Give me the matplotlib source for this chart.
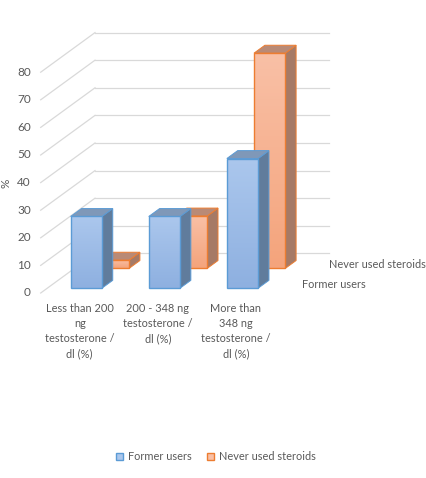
import matplotlib
matplotlib.use("Agg")
import matplotlib.pyplot as plt
import numpy as np
from matplotlib.patches import Polygon, Rectangle, Patch
from matplotlib.colors import LinearSegmentedColormap

# data
categories = ["Less than 200\nng\ntestosterone /\ndl (%)",
              "200 - 348 ng\ntestosterone /\ndl (%)",
              "More than\n348 ng\ntestosterone /\ndl (%)"]
series = ["Former users", "Never used steroids"]
former_users = [26, 26, 47]
never_used = [3, 19, 78]
yticks = [0, 10, 20, 30, 40, 50, 60, 70, 80]

# look of the 3d box (oblique projection)
W, H = 427, 478
px_cat, px_pct = 78.1, 2.76          # pixels per category / per percent
ox, oy = 40.7, 293                   # front-left floor corner in pixels
depth_dx, depth_dy = 54.3 / px_cat, 39.6 / px_pct
bar_w = 0.4
rows = {"Former users": (0.12, 0.32), "Never used steroids": (0.62, 0.82)}
styles = {
    "Former users": dict(top="#abc7ed", bottom="#8eb0e0", edge="#5b9bd5",
                         side="#607c9c", lid="#7f98b8"),
    "Never used steroids": dict(top="#f9c0a6", bottom="#f4a47c", edge="#ed7d31",
                                side="#a67a66", lid="#b98a76"),
}
txt = "#595959"
grid = "#d9d9d9"
fs = 8.5
fs_lab = 7.9

plt.rcParams['font.family'] = ['Lato', 'DejaVu Sans']

fig = plt.figure(figsize=(W / 100, H / 100), dpi=100)
ax = fig.add_axes([0, 0, 1, 1])
xmin = -0.5 - ox / px_cat
xmax = -0.5 + (W - ox) / px_cat
ymin = -(H - oy) / px_pct
ymax = oy / px_pct
ax.axis("off")


def P(x, y, d):
    return (x + depth_dx * d, y + depth_dy * d)


n = len(categories)
left, right = -0.5, n - 0.5

# back wall + side wall grid
for t in yticks:
    a, b = P(left, t, 1), P(right, t, 1)
    ax.plot([a[0], b[0]], [a[1], b[1]], color=grid, lw=0.9, zorder=1)
    c = P(left, t, 0)
    ax.plot([c[0], a[0]], [c[1], a[1]], color=grid, lw=0.9, zorder=1)
    ax.text(c[0] - 10 / px_cat, c[1], str(t), ha="right", va="center",
            fontsize=fs, color=txt)

ax.text(xmin + 6 / px_cat, (oy - 183) / px_pct, "%", rotation=90,
        ha="center", va="center", fontsize=fs, color=txt)

z = 2
values = {"Former users": former_users, "Never used steroids": never_used}
for name in ["Never used steroids", "Former users"]:
    d0, d1 = rows[name]
    st = styles[name]
    for i, v in enumerate(values[name]):
        x0, x1 = i - bar_w / 2, i + bar_w / 2
        side = Polygon([P(x1, 0, d0), P(x1, v, d0), P(x1, v, d1), P(x1, 0, d1)],
                       closed=True, facecolor=st["side"], edgecolor=st["edge"],
                       lw=0.7, zorder=z)
        lid = Polygon([P(x0, v, d0), P(x1, v, d0), P(x1, v, d1), P(x0, v, d1)],
                      closed=True, facecolor=st["lid"], edgecolor=st["edge"],
                      lw=0.7, zorder=z)
        ax.add_patch(side)
        ax.add_patch(lid)
        fx, fy = P(x0, 0, d0)
        front = Rectangle((fx, fy), bar_w, v, facecolor="none",
                          edgecolor=st["edge"], lw=1.0, zorder=z + 0.2)
        ax.add_patch(front)
        cmap = LinearSegmentedColormap.from_list("g", [st["bottom"], st["top"]])
        img = ax.imshow(np.linspace(0, 1, 64).reshape(-1, 1), cmap=cmap,
                        extent=(fx, fx + bar_w, fy, fy + v), origin="lower",
                        aspect="auto", zorder=z + 0.1)
        img.set_clip_path(Rectangle((fx, fy), bar_w, v, transform=ax.transData))
        z += 1

ax.set_xlim(xmin, xmax)
ax.set_ylim(ymin, ymax)

# category labels
for i, lab in enumerate(categories):
    ax.text(i, -(303 - oy) / px_pct, lab, ha="center", va="top",
            fontsize=fs_lab, color=txt, linespacing=1.45)

# series labels on depth axis
for name in series:
    d0, d1 = rows[name]
    px, py = P(right, 0, (d0 + d1) / 2)
    ax.text(px + 15 / px_cat, py, name, ha="left", va="center",
            fontsize=fs_lab, color=txt)

handles = [Patch(facecolor=styles[s]["top"], edgecolor=styles[s]["edge"]) for s in series]
fig.legend(handles, series, loc="center", bbox_to_anchor=(0.505, 1 - 456.7 / H),
           ncol=2, frameon=False, fontsize=fs_lab, handlelength=0.7, handleheight=0.7,
           columnspacing=1.4, handletextpad=0.4, labelcolor=txt)

fig.savefig("out.png", dpi=100)
